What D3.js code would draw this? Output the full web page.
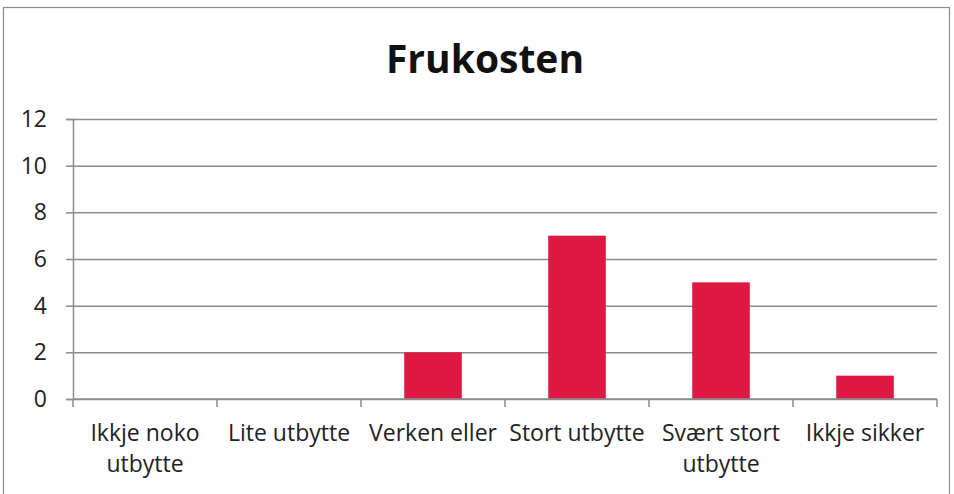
<!DOCTYPE html>
<html>
<head>
<meta charset="utf-8">
<script src="https://cdn.jsdelivr.net/npm/d3@7"></script>
<style>
  html, body { margin: 0; padding: 0; background: #fff; }
  svg { display: block; }
</style>
</head>
<body>
<svg id="chart" width="954" height="494"></svg>
<script>
// Responses to "Frukosten"
const categories = [
  ["Ikkje noko", "utbytte"],
  ["Lite utbytte"],
  ["Verken eller"],
  ["Stort utbytte"],
  ["Svært stort", "utbytte"],
  ["Ikkje sikker"]
];
const values = [0, 0, 2, 7, 5, 1];
const yTicks = [0, 2, 4, 6, 8, 10, 12];
const title = "Frukosten";

const svg = d3.select("#chart");
const W = 954, H = 494;
const margin = { left: 73, right: 17, top: 119, bottom: 95 };
const fontFamily = "'Open Sans', sans-serif";
const grid = "#8c8c8c";

// Outer frame
svg.append("rect")
  .attr("x", 3.5).attr("y", 7.5)
  .attr("width", 946).attr("height", 492)
  .attr("fill", "#fff").attr("stroke", grid).attr("stroke-width", 1.2);

const x = d3.scaleBand()
  .domain(d3.range(categories.length))
  .range([margin.left, W - margin.right])
  .paddingInner(0.6).paddingOuter(0.3);

const y = d3.scaleLinear()
  .domain([0, 12])
  .range([H - margin.bottom, margin.top]);

// Horizontal gridlines with outside tick marks
const yAxis = svg.append("g")
  .attr("transform", `translate(${margin.left},0)`)
  .call(d3.axisLeft(y).tickValues(yTicks).tickSize(7).tickPadding(14));
yAxis.select(".domain").attr("stroke", grid).attr("stroke-width", 1.5);
yAxis.selectAll(".tick line").attr("stroke", grid).attr("stroke-width", 1.5);
yAxis.selectAll(".tick").append("line")
  .attr("x1", 0).attr("x2", W - margin.right - margin.left)
  .attr("stroke", grid).attr("stroke-width", 1.5);
yAxis.selectAll(".tick text")
  .attr("font-family", fontFamily).attr("font-size", 23)
  .attr("fill", "#222").attr("dx", "-5");

// Bars
svg.append("g").selectAll("rect")
  .data(values)
  .join("rect")
  .attr("x", (d, i) => x(i))
  .attr("width", x.bandwidth())
  .attr("y", d => y(d))
  .attr("height", d => y(0) - y(d))
  .attr("fill", "#DE1941");

// Category axis: ticks at band boundaries
const step = x.step();
const bounds = d3.range(categories.length + 1).map(i => margin.left + i * step);
const xAxisG = svg.append("g");
xAxisG.append("line")
  .attr("x1", margin.left).attr("x2", W - margin.right)
  .attr("y1", y(0)).attr("y2", y(0))
  .attr("stroke", grid).attr("stroke-width", 1.5);
xAxisG.selectAll("line.tk")
  .data(bounds)
  .join("line")
  .attr("class", "tk")
  .attr("x1", d => d).attr("x2", d => d)
  .attr("y1", y(0)).attr("y2", y(0) + 8)
  .attr("stroke", grid).attr("stroke-width", 1.5);

const labels = xAxisG.selectAll("text.cat")
  .data(categories)
  .join("text")
  .attr("class", "cat")
  .attr("text-anchor", "middle")
  .attr("font-family", fontFamily)
  .attr("font-size", 23)
  .attr("fill", "#222");
labels.each(function(lines, i) {
  const t = d3.select(this);
  lines.forEach((ln, j) => {
    t.append("tspan")
      .attr("x", x(i) + x.bandwidth() / 2)
      .attr("y", y(0) + 42 + j * 31)
      .text(ln);
  });
});

// Title
svg.append("text")
  .attr("x", 485).attr("y", 73)
  .attr("text-anchor", "middle")
  .attr("font-family", fontFamily)
  .attr("font-weight", "bold")
  .attr("font-size", 39)
  .attr("fill", "#111")
  .text(title);
</script>
</body>
</html>
